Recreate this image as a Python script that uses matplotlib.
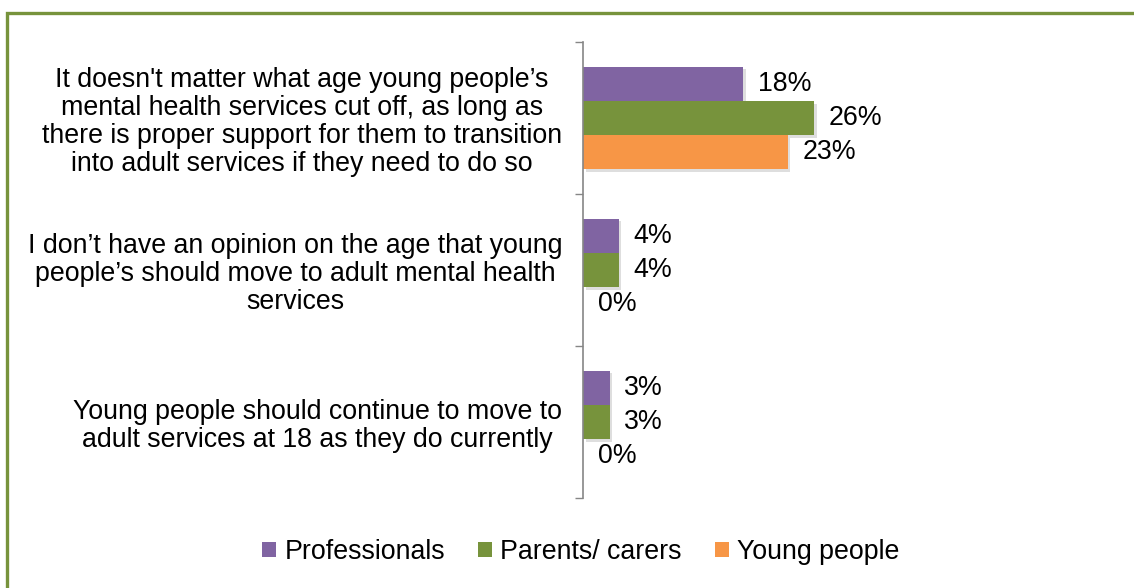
import matplotlib.pyplot as plt
import matplotlib.patheffects as pe
from matplotlib.patches import Rectangle
import numpy as np

plt.rcParams['font.family'] = ['Liberation Sans', 'DejaVu Sans']

categories = [
    "It doesn't matter what age young people\u2019s\nmental health services cut off, as long as\n"
    "there is proper support for them to transition\ninto adult services if they need to do so",
    "I don\u2019t have an opinion on the age that young\npeople\u2019s should move to adult mental health\nservices",
    "Young people should continue to move to\nadult services at 18 as they do currently",
]
series = ['Professionals', 'Parents/ carers', 'Young people']
professionals = [18, 4, 3]
parents = [26, 4, 3]
young_people = [23, 0, 0]
colors = ['#8064A2', '#77933C', '#F79646']

W, H = 1134, 588
fs = 19.3
fig = plt.figure(figsize=(W / 100, H / 100), dpi=100)

# green frame round the chart (right and bottom edges run off the image)
fig.add_artist(Rectangle((6.5 / W, -0.1), 1.2, (H - 13) / H + 0.1, transform=fig.transFigure,
                         fill=False, edgecolor='#77933C', linewidth=2.4))

ax = fig.add_axes([583 / W, 90 / H, 267 / W, 456 / H])

y = np.arange(len(categories))
bh = 0.225
shadow = [pe.SimplePatchShadow(offset=(2, -2), alpha=0.13, shadow_rgbFace='black'), pe.Normal()]

for i, (name, vals) in enumerate(zip(series, [professionals, parents, young_people])):
    pos = y + (i - 1) * bh
    bars = ax.barh(pos, vals, height=bh, color=colors[i], label=name, zorder=2)
    for b in bars:
        if b.get_width() > 0:
            b.set_path_effects(shadow)
    for p, v in zip(pos, vals):
        ax.annotate(f'{v}%', xy=(v, p), xytext=(10.5, 0), textcoords='offset points',
                    va='center', ha='left', fontsize=fs, color='black')

ax.set_xlim(0, 30)
ax.set_ylim(2.5, -0.5)

ax.set_yticks([-0.5, 0.5, 1.5, 2.5])
ax.set_yticklabels([])
ax.set_yticks(y, minor=True)
ax.set_yticklabels(categories, minor=True, fontsize=fs, linespacing=1.1)
for lbl in ax.get_yticklabels(minor=True):
    lbl.set_multialignment('center')
ax.tick_params(axis='y', which='major', length=5.5, width=1, color='#868686', direction='out')
ax.tick_params(axis='y', which='minor', length=0, pad=15)
ax.set_xticks([])

for s in ['top', 'right', 'bottom']:
    ax.spines[s].set_visible(False)
ax.spines['left'].set_color('#868686')
ax.spines['left'].set_linewidth(1.2)

leg = fig.legend(loc='center', bbox_to_anchor=(581 / W, 1 - 552 / H), ncol=3, frameon=False,
                 fontsize=fs, handlelength=0.52, handleheight=0.52, handletextpad=0.3,
                 columnspacing=1.25, borderpad=0)
for h in leg.legend_handles:
    h.set_path_effects([])

fig.savefig('out.png', dpi=100)
